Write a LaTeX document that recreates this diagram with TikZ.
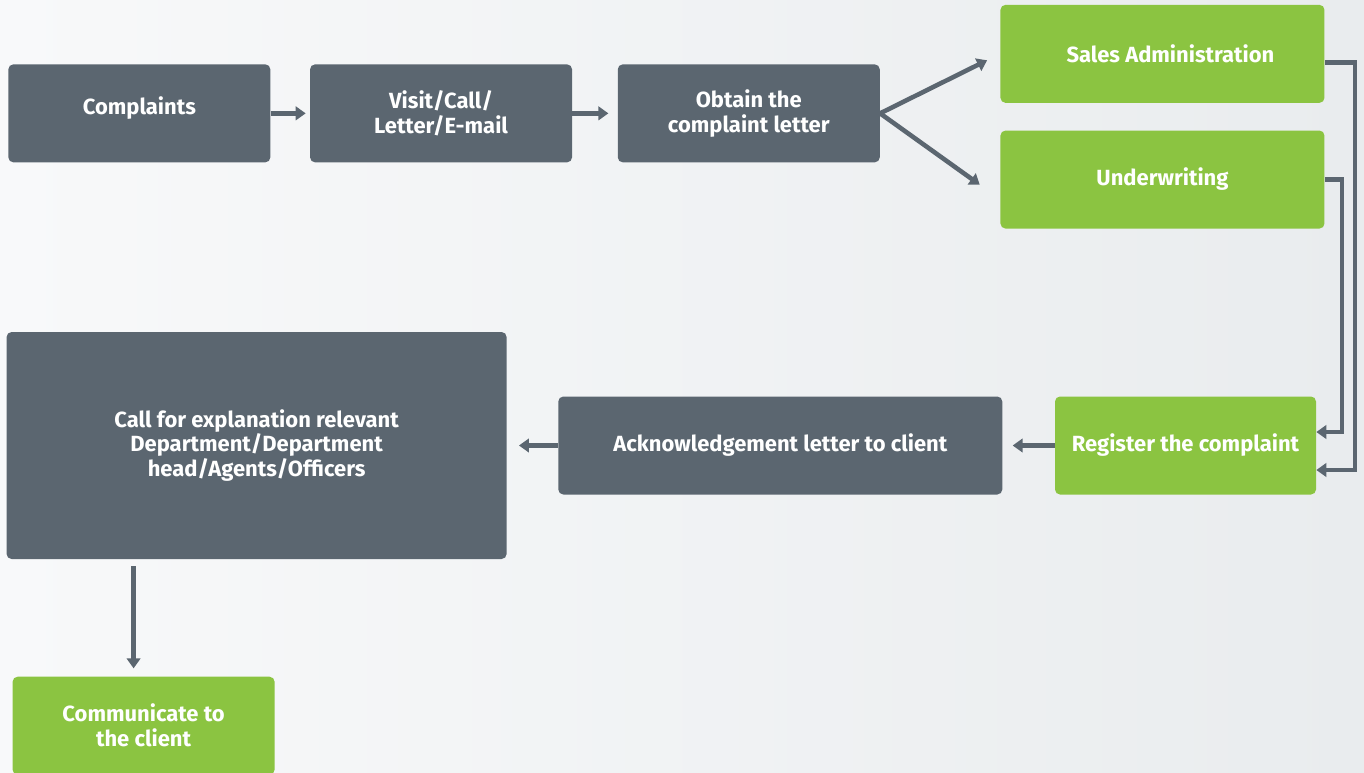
\documentclass[tikz,border=0pt]{standalone}
\usepackage{fontspec}
\setmainfont{Fira Sans}
\usepackage{xcolor}
\definecolor{slate}{HTML}{5B6670}
\definecolor{leaf}{HTML}{8BC441}
\definecolor{bgleft}{HTML}{F8F9FA}
\definecolor{bgright}{HTML}{E9ECEE}
\usepackage{tikz}
\usetikzlibrary{shapes,arrows,arrows.meta}
\usetikzlibrary{positioning,calc}
\tikzstyle{darkbox} = [rectangle, fill=slate, text=white, font=\bfseries\fontsize{12.5}{14.2}\selectfont,
    align=center, rounded corners=0.1cm, minimum width=5.24cm, minimum height=1.96cm, inner sep=0pt]
\tikzstyle{greenbox} = [darkbox, fill=leaf]
\tikzstyle{line} = [draw=slate, line width=2.6pt, -{Triangle[length=0.2cm,width=0.27cm]}]

\begin{document}
\begin{tikzpicture}[node distance=1cm,auto]
    % background
    \fill[left color=bgleft, right color=bgright] (0,0) rectangle (27.28,-15.44);
    \useasboundingbox (0,0) rectangle (27.28,-15.44);

    % Place nodes
    \node [darkbox, anchor=north west] (complaints) at (0.16,-1.28) {\raisebox{0.32cm}{Complaints}};
    \node [darkbox, right=0.78cm of complaints] (visit) {Visit/Call/\\Letter/E-mail};
    \node [darkbox, right=0.9cm of visit] (obtain) {Obtain the\\complaint letter};
    \node [greenbox, minimum width=6.48cm, right=2.4cm of obtain, yshift=1.19cm] (sales) {\hspace{0.32cm}Sales Administration};
    \node [greenbox, minimum width=6.48cm, below=0.54cm of sales] (under) {\raisebox{0.1cm}{Underwriting}};
    \node [greenbox, minimum width=5.22cm] (register) at (23.71,-8.91) {Register the complaint};
    \node [darkbox, minimum width=8.88cm, left=1.04cm of register] (ack) {Acknowledgement letter to client};
    \node [darkbox, minimum width=10cm, minimum height=4.54cm, left=1.02cm of ack] (call)
        {Call for explanation relevant\\Department/Department\\head/Agents/Officers};
    \node [greenbox, anchor=north west] (comm) at ([xshift=0.12cm,yshift=-2.34cm]call.south west) {Communicate to\\the client};

    % Draw edges
    \path [line, shorten >=0.08cm] (complaints) -- (visit);
    \path [line, shorten >=0.18cm] (visit) -- (obtain);
    \path [line, shorten >=0.29cm] (obtain.east) -- (sales.west);
    \path [line, shorten >=0.5cm] (obtain.east) -- ($(under.west)!0.4!(under.south west)$);
    \path [line] ([yshift=-0.17cm]sales.east) -- ++(0.6cm,0) |- ([yshift=-0.49cm]register.east);
    \path [line] (under.east) -- ++(0.34cm,0) |- ([yshift=0.27cm]register.east);
    \path [line, shorten >=0.2cm] (register) -- (ack);
    \path [line, shorten >=0.24cm] (ack) -- (call);
    \path [line, shorten <=0.14cm, shorten >=0.16cm] ([xshift=-2.46cm]call.south) -- ([xshift=-2.46cm]call.south |- comm.north);
\end{tikzpicture}
\end{document}
